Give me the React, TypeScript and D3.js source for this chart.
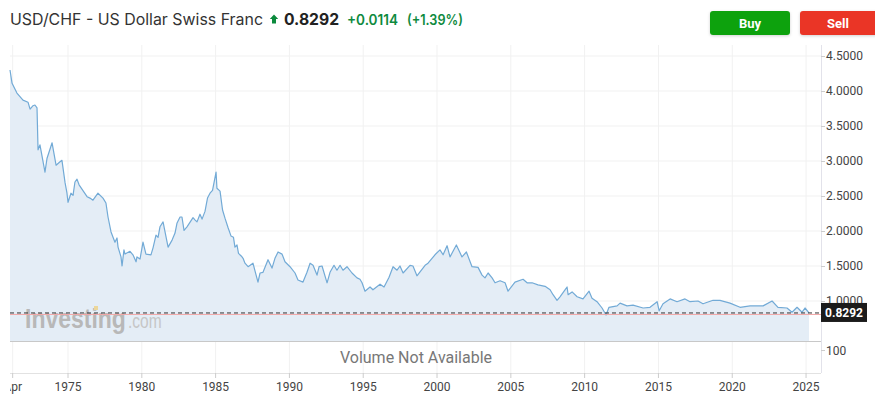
import React from "react";
import * as d3 from "d3";

// ---- DATA ----
const years: number[] = [
  1971.07, 1971.21, 1971.54, 1971.95, 1972.29, 1972.43, 1972.63, 1972.76, 1972.9, 1972.97,
  1973.1, 1973.44, 1973.58, 1973.92, 1974.19, 1974.46, 1974.59, 1974.8, 1974.93, 1975.0,
  1975.2, 1975.34, 1975.47, 1975.61, 1975.75, 1976.29, 1976.49, 1976.69, 1977.03, 1977.37,
  1977.57, 1977.71, 1977.91, 1978.05, 1978.18, 1978.32, 1978.39, 1978.59, 1978.66, 1978.79,
  1978.86, 1979.2, 1979.4, 1979.61, 1979.67, 1979.88, 1980.08, 1980.28, 1980.62, 1980.76,
  1980.96, 1981.1, 1981.23, 1981.44, 1981.57, 1981.78, 1982.05, 1982.25, 1982.38, 1982.59,
  1982.72, 1982.86, 1983.06, 1983.47, 1983.6, 1983.74, 1983.94, 1984.08, 1984.28, 1984.45,
  1984.62, 1984.79, 1985.03, 1985.09, 1985.3, 1985.47, 1985.64, 1985.84, 1986.04, 1986.21,
  1986.31, 1986.45, 1986.55, 1986.75, 1986.86, 1986.99, 1987.2, 1987.53, 1987.87, 1988.01,
  1988.21, 1988.55, 1988.82, 1989.02, 1989.23, 1989.5, 1989.7, 1990.04, 1990.38, 1990.58,
  1990.92, 1991.19, 1991.4, 1991.6, 1991.87, 1992.01, 1992.21, 1992.55, 1992.75, 1993.02,
  1993.22, 1993.43, 1993.63, 1993.9, 1994.24, 1994.58, 1994.78, 1994.92, 1995.12, 1995.46,
  1995.66, 1996.14, 1996.41, 1996.75, 1997.02, 1997.29, 1997.49, 1997.7, 1998.17, 1998.37,
  1998.64, 1999.19, 1999.39, 1999.86, 2000.2, 2000.41, 2000.68, 2000.88, 2001.31, 2001.69,
  2001.99, 2002.37, 2002.78, 2003.05, 2003.25, 2003.46, 2003.73, 2003.93, 2004.27, 2004.61,
  2004.81, 2005.28, 2005.83, 2006.1, 2006.44, 2006.84, 2007.32, 2007.66, 2007.86, 2008.13,
  2008.33, 2008.67, 2008.81, 2008.88, 2009.15, 2009.49, 2009.89, 2010.3, 2010.5, 2010.84,
  2011.18, 2011.45, 2011.65, 2012.2, 2012.4, 2012.87, 2013.28, 2013.96, 2014.43, 2014.91,
  2015.05, 2015.31, 2015.79, 2016.26, 2016.8, 2017.14, 2017.68, 2018.02, 2018.7, 2019.17,
  2019.85, 2020.53, 2021.21, 2022.09, 2022.7, 2023.1, 2023.71, 2024.05, 2024.39, 2024.73,
  2024.93, 2025.2,
];

const rates: number[] = [
  4.3, 4.11, 3.97, 3.87, 3.84, 3.74, 3.79, 3.8, 3.76, 3.16,
  3.23, 2.84, 3.04, 3.26, 2.94, 2.99, 3.01, 2.69, 2.54, 2.41,
  2.54, 2.51, 2.7, 2.74, 2.66, 2.49, 2.47, 2.44, 2.54, 2.47,
  2.4, 2.2, 1.99, 1.91, 1.84, 1.9, 1.77, 1.63, 1.5, 1.73,
  1.67, 1.71, 1.66, 1.56, 1.63, 1.6, 1.84, 1.67, 1.66, 1.76,
  1.94, 1.91, 2.06, 2.13, 1.99, 1.77, 1.87, 1.97, 2.11, 2.2,
  2.2, 2.01, 2.06, 2.19, 2.16, 2.13, 2.24, 2.17, 2.28, 2.47,
  2.54, 2.58, 2.84, 2.61, 2.57, 2.3, 2.18, 2.05, 1.93, 1.91,
  1.77, 1.8, 1.68, 1.64, 1.61, 1.54, 1.49, 1.54, 1.27, 1.4,
  1.41, 1.59, 1.47, 1.61, 1.7, 1.67, 1.56, 1.49, 1.4, 1.3,
  1.27, 1.41, 1.54, 1.51, 1.37, 1.49, 1.5, 1.26, 1.41, 1.51,
  1.44, 1.51, 1.44, 1.49, 1.4, 1.33, 1.31, 1.26, 1.14, 1.2,
  1.16, 1.24, 1.2, 1.34, 1.49, 1.44, 1.5, 1.4, 1.51, 1.5,
  1.36, 1.51, 1.54, 1.66, 1.73, 1.66, 1.79, 1.63, 1.8, 1.63,
  1.7, 1.49, 1.48, 1.37, 1.33, 1.4, 1.33, 1.26, 1.29, 1.26,
  1.14, 1.27, 1.31, 1.26, 1.26, 1.23, 1.21, 1.16, 1.09, 1.01,
  1.06, 1.16, 1.2, 1.09, 1.13, 1.06, 1.03, 1.14, 1.04, 0.99,
  0.9, 0.8, 0.91, 0.93, 0.97, 0.93, 0.94, 0.9, 0.91, 0.99,
  0.86, 0.96, 1.03, 0.99, 1.03, 0.99, 1.0, 0.96, 1.01, 1.01,
  0.97, 0.91, 0.93, 0.93, 1.0, 0.91, 0.9, 0.84, 0.91, 0.84,
  0.9, 0.8292,
];

const priceTicks: number[] = [1.0, 1.5, 2.0, 2.5, 3.0, 3.5, 4.0, 4.5];
const yearTicks: number[] = [1971.25, 1975, 1980, 1985, 1990, 1995, 2000, 2005, 2010, 2015, 2020, 2025];
const yearTickLabels: string[] = ["Apr", "1975", "1980", "1985", "1990", "1995", "2000", "2005", "2010", "2015", "2020", "2025"];

const lastPrice = 0.8292;
const titleText = "USD/CHF - US Dollar Swiss Franc";
const changeText = "+0.0114";
const changePctText = "(+1.39%)";

export default function App() {
  const W = 875;
  const H = 399;
  const left = 10;
  const right = 821;
  const top = 45;
  const paneBottom = 341;
  const axisBottom = 373;

  const x = d3.scaleLinear().domain([1971.07, 2025.2]).range([10, 809]);
  const y = d3.scaleLinear().domain([1, 4.5]).range([301, 56]);

  const data = years.map((yr, i) => ({ yr, v: rates[i] }));
  const line = d3
    .line<{ yr: number; v: number }>()
    .x((d) => x(d.yr))
    .y((d) => y(d.v));
  const area = d3
    .area<{ yr: number; v: number }>()
    .x((d) => x(d.yr))
    .y0(paneBottom)
    .y1((d) => y(d.v));

  const font = "Roboto, 'Open Sans', Arial, sans-serif";
  const headFont = "Inter, Roboto, sans-serif";
  const wmFont = "'Liberation Sans', Arial, sans-serif";
  const lastY = y(lastPrice);

  return (
    <svg
      width={W}
      height={H}
      style={{ position: "absolute", left: 0, top: 0, background: "#fff" }}
      fontFamily={font}
    >
      <defs>
        <clipPath id="axisClip">
          <rect x={10} y={370} width={820} height={30} />
        </clipPath>
        <filter id="btnShadow" x="-20%" y="-40%" width="140%" height="180%">
          <feDropShadow dx="0" dy="1" stdDeviation="1.5" floodOpacity="0.18" />
        </filter>
      </defs>

      {/* Header */}
      <text x={10} y={25} fontSize={16} fill="#333" fontFamily={headFont} textLength={253} lengthAdjust="spacingAndGlyphs">{titleText}</text>
      <path d="M274,14.5 L278.2,19 L276,19 L276,23.5 L272,23.5 L272,19 L269.8,19 Z" fill="#0b8a3c" />
      <text x={284} y={25} fontSize={16} fontWeight={700} fill="#222" fontFamily={headFont} textLength={55} lengthAdjust="spacingAndGlyphs">{lastPrice.toFixed(4)}</text>
      <text x={347} y={24.5} fontSize={14} fontWeight={600} fill="#0e8a3e" fontFamily={headFont} textLength={51} lengthAdjust="spacingAndGlyphs">{changeText}</text>
      <text x={407} y={24.5} fontSize={14} fontWeight={600} fill="#0e8a3e" fontFamily={headFont} textLength={56} lengthAdjust="spacingAndGlyphs">{changePctText}</text>

      {/* Buttons */}
      <rect x={710} y={11} width={80} height={24} rx={3} fill="#11a20f" filter="url(#btnShadow)" />
      <text x={750} y={27.5} fontSize={13} fontWeight={700} fill="#fff" textAnchor="middle">Buy</text>
      <rect x={800} y={11} width={80} height={24} rx={3} fill="#ea3428" filter="url(#btnShadow)" />
      <text x={838} y={27.5} fontSize={13} fontWeight={700} fill="#fff" textAnchor="middle">Sell</text>

      {/* Grid lines */}
      {priceTicks.map((t) => (
        <line key={"h" + t} x1={left} x2={right} y1={y(t)} y2={y(t)} stroke="#f1f1f1" strokeWidth={1} />
      ))}
      {yearTicks.map((t) => (
        <line key={"v" + t} x1={x(t)} x2={x(t)} y1={top} y2={axisBottom} stroke="#f1f1f1" strokeWidth={1} />
      ))}

      {/* Area + line */}
      <path d={area(data) || ""} fill="#e4edf6" />
      <path d={line(data) || ""} fill="none" stroke="#72aad6" strokeWidth={1.2} strokeLinejoin="round" />

      {/* Watermark */}
      <g transform="translate(25,328) scale(1,1.21)">
        <text x={0} y={0} fontSize={23} fontWeight={700} fill="#b8b8b8" fontFamily={wmFont}>Investing</text>
      </g>
      <g transform="translate(128,328) scale(1,1.3)">
        <text x={0} y={0} fontSize={15.5} fill="#c6c6c6" fontFamily={wmFont}>.com</text>
      </g>
      <rect x={94} y={306} width={4} height={4} fill="#ecd79a" />

      {/* Current price lines */}
      <line x1={left} x2={right} y1={lastY + 1.5} y2={lastY + 1.5} stroke="#f2a7a7" strokeWidth={1} />
      <line x1={left} x2={right} y1={lastY} y2={lastY} stroke="#333" strokeWidth={1} strokeDasharray="4,3" />

      {/* Pane separators */}
      <line x1={left} x2={right} y1={paneBottom + 0.5} y2={paneBottom + 0.5} stroke="#c8c8c8" strokeWidth={1.2} />
      <line x1={left} x2={right} y1={axisBottom + 0.5} y2={axisBottom + 0.5} stroke="#e2e2e2" strokeWidth={1} />
      <line x1={right + 0.5} x2={right + 0.5} y1={top} y2={axisBottom} stroke="#e2e2ea" strokeWidth={1} />

      {/* Volume pane */}
      <text x={416} y={363} fontSize={16} fill="#777" textAnchor="middle">Volume Not Available</text>
      <line x1={right} x2={right + 4} y1={350.5} y2={350.5} stroke="#ccc" />
      <text x={826} y={355} fontSize={12} fill="#444">100</text>

      {/* Right axis */}
      {priceTicks.map((t) => (
        <g key={"yt" + t}>
          <line x1={right} x2={right + 4} y1={y(t) + 0.5} y2={y(t) + 0.5} stroke="#ccc" />
          <text x={826} y={y(t) + 4} fontSize={12} fill="#444">{t.toFixed(4)}</text>
        </g>
      ))}

      {/* Last price label */}
      <rect x={821} y={lastY - 10} width={46} height={19} fill="#1b1b1b" />
      <text x={844} y={lastY + 4.5} fontSize={12} fontWeight={700} fill="#fff" textAnchor="middle">
        {lastPrice.toFixed(4)}
      </text>

      {/* Bottom axis */}
      <g clipPath="url(#axisClip)">
        {yearTicks.map((t, i) => (
          <g key={"xt" + t}>
            <line x1={x(t)} x2={x(t)} y1={axisBottom} y2={axisBottom + 5} stroke="#ccc" />
            <text x={x(t)} y={391} fontSize={12} fill="#444" textAnchor="middle">{yearTickLabels[i]}</text>
          </g>
        ))}
      </g>
    </svg>
  );
}
